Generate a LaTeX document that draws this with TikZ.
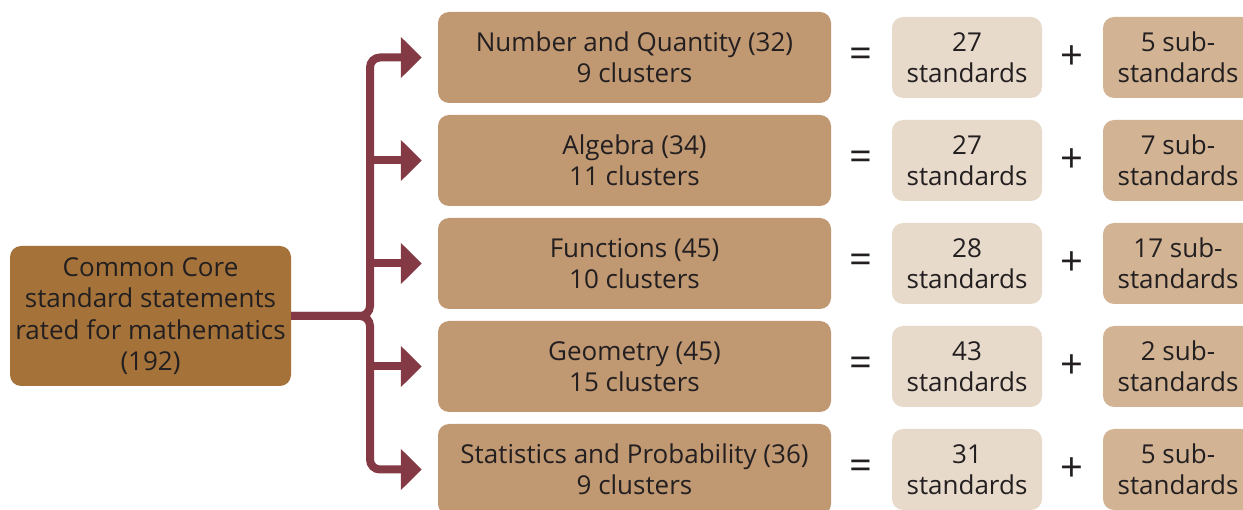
\documentclass[tikz,border=0pt]{standalone}
\usepackage{fontspec}
\setmainfont{Open Sans}
\usetikzlibrary{arrows.meta}
\definecolor{txt}{HTML}{231F20}
\definecolor{leftc}{HTML}{A5733A}
\definecolor{midc}{HTML}{C09872}
\definecolor{lightc}{HTML}{E8DACB}
\definecolor{darkc}{HTML}{D2B494}
\definecolor{arr}{HTML}{843A45}
\begin{document}
\begin{tikzpicture}[x=1pt,y=-1pt,
 box/.style={rounded corners=11pt, text=txt, align=center, font=\fontsize{26}{31.5}\selectfont, inner sep=0pt},
 leftbox/.style={box, fill=leftc, minimum width=281pt, minimum height=140pt},
 midbox/.style={box, fill=midc, minimum width=393pt, minimum height=91pt},
 stdbox/.style={box, fill=lightc, minimum width=150pt, minimum height=81pt},
 subbox/.style={box, fill=darkc, minimum width=150pt, minimum height=81pt},
 op/.style={text=txt, font=\fontsize{40}{40}\selectfont, inner sep=0pt},
 conn/.style={draw=arr, line width=8pt, rounded corners=10pt},
 tip/.style={-{Triangle[length=21pt,width=40pt]}, shorten >=16pt}]
\useasboundingbox (0,0) rectangle (1243,510);
\clip (0,0) rectangle (1243,510);
\node[leftbox] (L) at (150.5,316) {Common Core\\standard statements\\rated for mathematics\\(192)};
\foreach \i/\y/\m/\s/\u in {
 1/57.5/{Number and Quantity (32)\\9 clusters}/27/5,
 2/160.5/{Algebra (34)\\11 clusters}/27/7,
 3/263.5/{Functions (45)\\10 clusters}/28/17,
 4/366.5/{Geometry (45)\\15 clusters}/43/2,
 5/469.5/{Statistics and Probability (36)\\9 clusters}/31/5}{
 \node[midbox] (M\i) at (634.5,\y) {\m};
 \node[op] (E\i) at (861,\y) {=};
 \node[stdbox] (S\i) at (967,\y) {\s\\standards};
 \node[op] (P\i) at (1072,\y) {+};
 \node[subbox] (U\i) at (1178,\y) {\u\ sub-\\standards};
}
\draw[conn,tip] (L.east) -- (370,316) -- (370,57.5) -- (M1.west);
\draw[conn,tip] (L.east) -- (370,316) -- (370,469.5) -- (M5.west);
\draw[conn,tip] (366,160.5) -- (M2.west);
\draw[conn,tip] (366,263.5) -- (M3.west);
\draw[conn,tip] (366,366.5) -- (M4.west);
\end{tikzpicture}
\end{document}
